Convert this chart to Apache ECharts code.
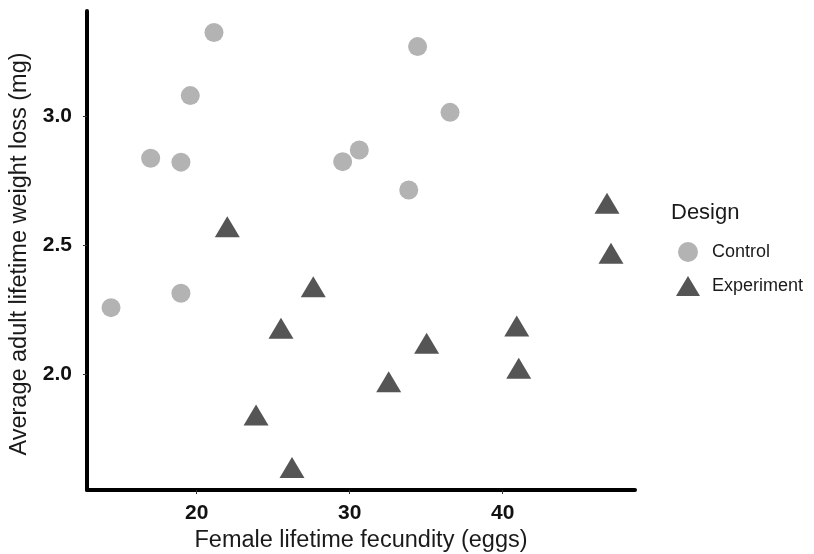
<!DOCTYPE html>
<html><head><meta charset="utf-8">
<script src="https://cdn.jsdelivr.net/npm/echarts@6/dist/echarts.min.js"></script>
<style>html,body{margin:0;padding:0;background:#fff}#c{width:814px;height:554px}</style>
</head><body><div id="c"></div>
<script>
const controlX = [21.13, 19.58, 16.99, 18.97, 34.44, 36.56, 30.63, 29.54, 33.86, 14.40, 18.97];
const controlY = [3.324, 3.079, 2.836, 2.821, 3.269, 3.014, 2.868, 2.823, 2.713, 2.257, 2.313];
const expX = [22.0, 46.82, 47.08, 25.51, 23.88, 26.23, 27.62, 35.03, 40.92, 32.55, 41.05];
const expY = [2.571, 2.662, 2.468, 2.177, 1.841, 1.637, 2.338, 2.119, 2.186, 1.970, 2.022];
const xTicks = [20, 30, 40];
const yTicks = [2.0, 2.5, 3.0];
const seriesNames = ['Control', 'Experiment'];
const legendTitle = 'Design';
const xTitle = 'Female lifetime fecundity (eggs)';
const yTitle = 'Average adult lifetime weight loss (mg)';

const zip = (a, b) => a.map((v, i) => [v, b[i]]);
const chart = echarts.init(document.getElementById('c'));
const font = 'Liberation Sans, Arial, sans-serif';
chart.setOption({
  animation: false,
  title: { text: legendTitle, left: 666, top: 197, textStyle: { fontFamily: font, fontSize: 22, fontWeight: 'normal', color: '#1a1a1a' } },
  legend: {
    orient: 'vertical', left: 671, top: 237, itemWidth: 24, itemHeight: 20, itemGap: 14,
    data: seriesNames,
    textStyle: { fontFamily: font, fontSize: 18, lineHeight: 20, color: '#1a1a1a', padding: [0, 0, 0, 7] }
  },
  grid: { left: 87, right: 179, top: 11, bottom: 64, containLabel: false, outerBoundsMode: 'none' },
  xAxis: {
    type: 'value', min: 12.83, max: 48.65,
    name: xTitle, nameLocation: 'middle', nameGap: 36,
    nameTextStyle: { fontFamily: font, fontSize: 23.5, color: '#1a1a1a' },
    axisLine: { show: true, onZero: false, lineStyle: { color: '#000', width: 4 } },
    axisTick: { show: true, length: 4, lineStyle: { color: '#333', width: 1 }, customValues: xTicks },
    axisLabel: { fontFamily: font, fontSize: 21, fontWeight: 'bold', color: '#111', margin: 13, customValues: xTicks },
    splitLine: { show: false }
  },
  yAxis: {
    type: 'value', min: 1.55, max: 3.407,
    name: yTitle, nameLocation: 'middle', nameGap: 49, nameRotate: 90,
    nameTextStyle: { fontFamily: font, fontSize: 23.5, color: '#1a1a1a', padding: [0, 7, 0, 0] },
    axisLine: { show: true, onZero: false, lineStyle: { color: '#000', width: 4 } },
    axisTick: { show: true, length: 4, lineStyle: { color: '#333', width: 1 }, customValues: yTicks },
    axisLabel: { fontFamily: font, fontSize: 21, fontWeight: 'bold', color: '#111', margin: 15,
      customValues: yTicks, formatter: v => v.toFixed(1) },
    splitLine: { show: false }
  },
  series: [
    { name: seriesNames[0], type: 'scatter', symbol: 'circle', symbolSize: 19,
      itemStyle: { color: '#b3b3b3', opacity: 1 }, data: zip(controlX, controlY) },
    { name: seriesNames[1], type: 'scatter', symbol: 'triangle', symbolSize: [25, 21],
      itemStyle: { color: '#555555', opacity: 1 }, data: zip(expX, expY) }
  ]
});
</script></body></html>
